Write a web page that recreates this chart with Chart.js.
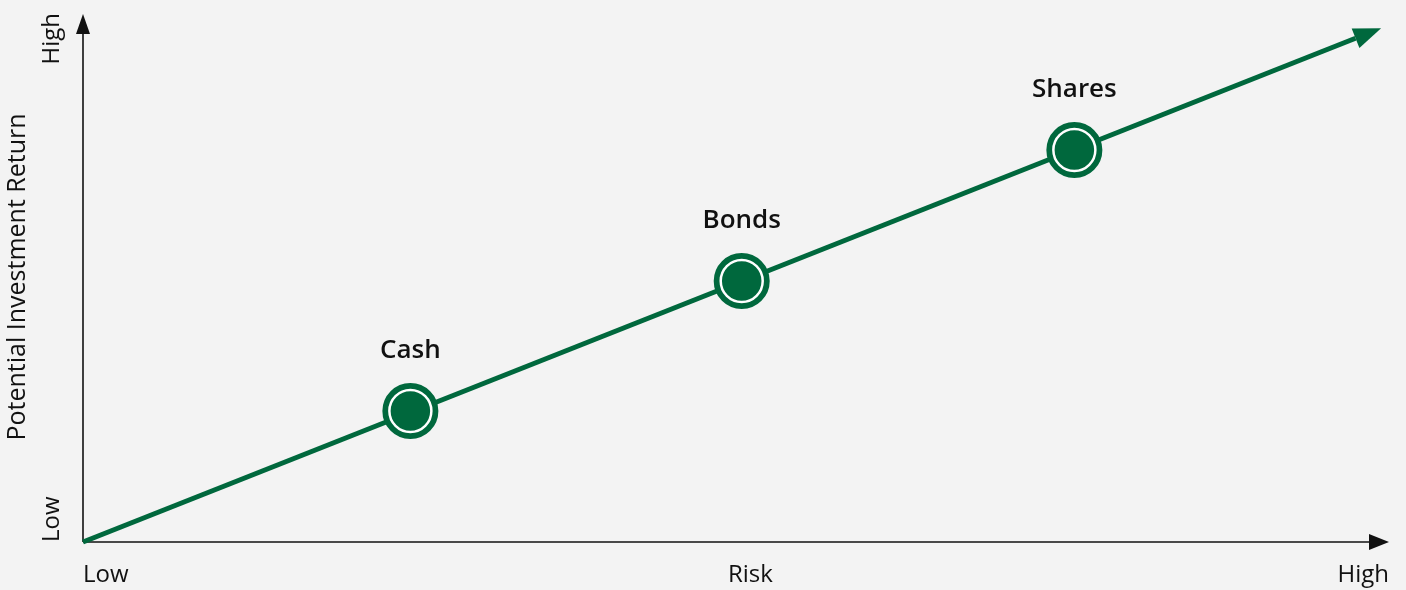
<!DOCTYPE html>
<html>
<head>
<meta charset="utf-8">
<script src="https://cdn.jsdelivr.net/npm/chart.js@4"></script>
<style>
  body { margin: 0; background: #f3f3f3; }
  #wrap { width: 1406px; height: 590px; position: relative; }
</style>
</head>
<body>
<div id="wrap"><canvas id="myChart"></canvas></div>
<script>
// data
const categories = ['Cash', 'Bonds', 'Shares'];
const riskValues = [24.8, 49.9, 75.1];
const returnValues = [25.1, 50, 75.1];
const trendX = [0, 96.4];
const trendY = [0, 96.5];
const xTickLabels = ['Low', 'High'];
const yTickLabels = ['Low', 'High'];
const xTitle = 'Risk';
const yTitle = 'Potential Investment Return';

const green = '#00683d';
const font = "'Open Sans', sans-serif";

const points = categories.map(function (c, i) {
    return { x: riskValues[i], y: returnValues[i] };
});
const trend = trendX.map(function (x, i) {
    return { x: x, y: trendY[i] };
});

// background + axes with arrows + texts
const decor = {
    id: 'decor',
    beforeDraw: function (chart) {
        const c = chart.ctx;
        c.save();
        c.fillStyle = '#f3f3f3';
        c.fillRect(0, 0, chart.width, chart.height);
        c.restore();
    },
    beforeDatasetsDraw: function (chart) {
        const c = chart.ctx, a = chart.chartArea;
        // axis tips sit a bit past the plot area (point overflow keeps top/right at 30px)
        const topTip = a.top - 16, rightTip = a.right + 13;
        c.save();
        c.strokeStyle = '#111';
        c.fillStyle = '#111';
        c.lineWidth = 1.6;
        // y axis
        c.beginPath();
        c.moveTo(a.left, a.bottom);
        c.lineTo(a.left, topTip + 16);
        c.stroke();
        c.beginPath();
        c.moveTo(a.left, topTip);
        c.lineTo(a.left - 7, topTip + 20);
        c.lineTo(a.left + 7, topTip + 20);
        c.closePath();
        c.fill();
        // x axis
        c.beginPath();
        c.moveTo(a.left, a.bottom);
        c.lineTo(rightTip - 16, a.bottom);
        c.stroke();
        c.beginPath();
        c.moveTo(rightTip, a.bottom);
        c.lineTo(rightTip - 20, a.bottom - 8);
        c.lineTo(rightTip - 20, a.bottom + 8);
        c.closePath();
        c.fill();

        // x tick labels + title
        c.font = '24px ' + font;
        c.textBaseline = 'alphabetic';
        c.textAlign = 'left';
        c.fillText(xTickLabels[0], a.left, a.bottom + 40);
        c.textAlign = 'right';
        c.fillText(xTickLabels[1], rightTip, a.bottom + 40);
        c.textAlign = 'center';
        c.fillText(xTitle, a.left + (rightTip - a.left) * 0.511, a.bottom + 40);

        // y tick labels + title (rotated)
        c.save();
        c.translate(a.left - 24, a.bottom);
        c.rotate(-Math.PI / 2);
        c.textAlign = 'left';
        c.fillText(yTickLabels[0], 0, 0);
        c.restore();
        c.save();
        c.translate(a.left - 24, topTip - 1);
        c.rotate(-Math.PI / 2);
        c.textAlign = 'right';
        c.fillText(yTickLabels[1], 0, 0);
        c.restore();
        c.save();
        c.font = '25px ' + font;
        c.translate(25, (topTip + a.bottom) / 2 - 1);
        c.rotate(-Math.PI / 2);
        c.textAlign = 'center';
        c.fillText(yTitle, 0, 0);
        c.restore();
        c.restore();
    },
    afterDatasetsDraw: function (chart) {
        const c = chart.ctx;
        const xs = chart.scales.x, ys = chart.scales.y;
        // arrow head on trend line
        const n = trend.length;
        const x0 = xs.getPixelForValue(trend[n - 2].x), y0 = ys.getPixelForValue(trend[n - 2].y);
        const x1 = xs.getPixelForValue(trend[n - 1].x), y1 = ys.getPixelForValue(trend[n - 1].y);
        const len = Math.hypot(x1 - x0, y1 - y0);
        const ux = (x1 - x0) / len, uy = (y1 - y0) / len;
        c.save();
        c.fillStyle = green;
        c.beginPath();
        c.moveTo(x1 + ux * 27.5, y1 + uy * 27.5);
        c.lineTo(x1 - uy * 10.5, y1 + ux * 10.5);
        c.lineTo(x1 + uy * 10.5, y1 - ux * 10.5);
        c.closePath();
        c.fill();

        // category labels
        c.fillStyle = '#111';
        c.font = '600 26px ' + font;
        c.textAlign = 'center';
        c.textBaseline = 'alphabetic';
        points.forEach(function (p, i) {
            c.fillText(categories[i], xs.getPixelForValue(p.x), ys.getPixelForValue(p.y) - 53);
        });
        c.restore();
    }
};

const ctx = document.getElementById('myChart').getContext('2d');
const myChart = new Chart(ctx, {
    type: 'scatter',
    data: {
        datasets: [
            {
                label: 'core',
                data: points,
                pointRadius: 21,
                pointHoverRadius: 21,
                pointBackgroundColor: green,
                pointBorderColor: '#ffffff',
                pointBorderWidth: 2.5,
                order: 1
            },
            {
                label: 'ring',
                data: points,
                pointRadius: 26,
                pointHoverRadius: 26,
                pointBackgroundColor: green,
                pointBorderColor: green,
                pointBorderWidth: 4,
                order: 2
            },
            {
                label: 'trend',
                type: 'line',
                data: trend,
                borderColor: green,
                borderWidth: 5,
                pointRadius: 0,
                fill: false,
                clip: false,
                order: 3
            }
        ]
    },
    options: {
        responsive: true,
        maintainAspectRatio: false,
        animation: false,
        layout: { padding: { left: 83, right: 30, top: 30, bottom: 48 } },
        plugins: {
            legend: { display: false },
            tooltip: { enabled: false }
        },
        scales: {
            x: { type: 'linear', display: false, min: 0, max: 97.95 },
            y: { type: 'linear', display: false, min: 0, max: 98.08 }
        }
    },
    plugins: [decor]
});
</script>
</body>
</html>
